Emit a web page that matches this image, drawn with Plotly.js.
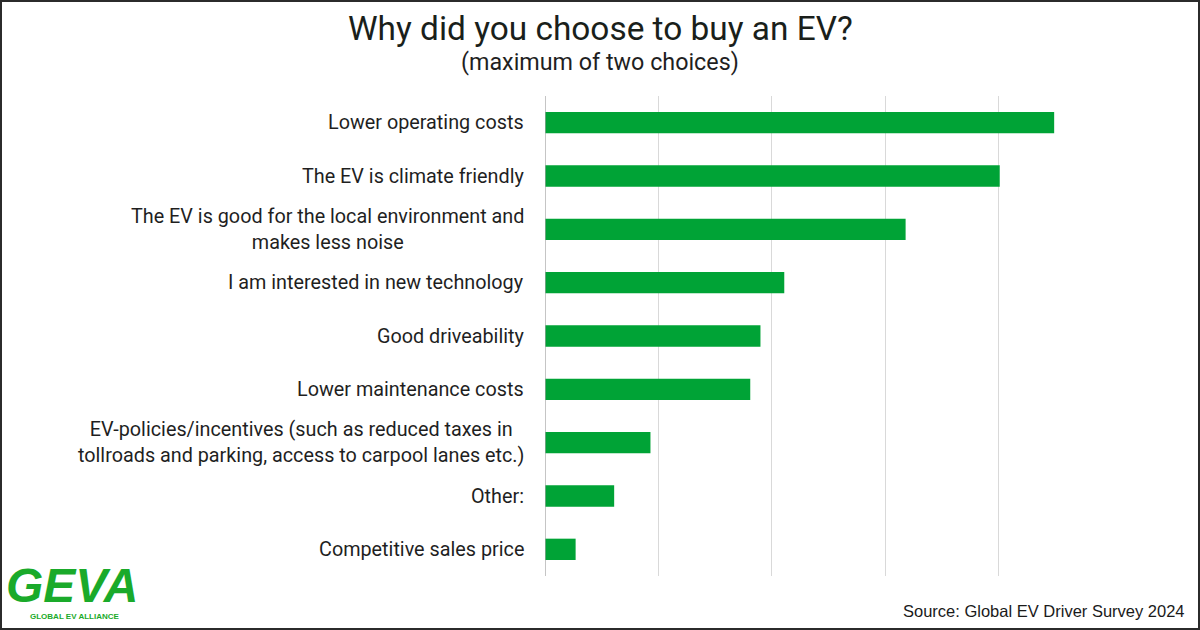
<!DOCTYPE html>
<html>
<head>
<meta charset="utf-8">
<script src="https://cdn.plot.ly/plotly-3.0.1.min.js"></script>
<style>
  html, body { margin: 0; padding: 0; background: #ffffff; }
  #chart { width: 1200px; height: 630px; }
</style>
</head>
<body>
<div id="chart"></div>
<script>
// Data (percent of respondents, estimated)
const categories = [
  "Lower operating costs",
  "The EV is climate friendly",
  "The EV is good for the local environment and<br>makes less noise",
  "I am interested in new technology",
  "Good driveability",
  "Lower maintenance costs",
  "EV-policies/incentives (such as reduced taxes in<br>tollroads and parking, access to carpool lanes etc.)",
  "Other:",
  "Competitive sales price"
];
const values = [44.9, 40.1, 31.8, 21.1, 19.0, 18.1, 9.3, 6.1, 2.7];
const xTicks = [0, 10, 20, 30, 40, 50];
const titleText = 'Why did you choose to buy an EV?';
const subtitleText = '(maximum of two choices)';
const sourceText = 'Source: Global EV Driver Survey 2024';

const L = 545, R = 1112, T = 96, B = 576;
const W = 1200, H = 630;
const px = v => (v - L) / (R - L);
const py = v => (B - v) / (B - T);

const labelAnnotations = categories.map(c => ({
  x: px(526), xref: 'paper', xanchor: 'right',
  y: c, yref: 'y', yanchor: 'middle',
  text: c, showarrow: false, align: 'center',
  font: { family: 'Roboto, Arial, sans-serif', size: 19.8, color: '#1f1f1f' }
}));

const data = [{
  type: 'bar',
  orientation: 'h',
  y: categories,
  x: values,
  marker: { color: '#00a336' },
  hoverinfo: 'skip'
}];

const layout = {
  width: W, height: H,
  margin: { l: L, r: W - R, t: T, b: H - B, pad: 0 },
  paper_bgcolor: '#ffffff',
  plot_bgcolor: '#ffffff',
  showlegend: false,
  bargap: 0.6,
  xaxis: {
    range: [0, 50],
    tickvals: xTicks,
    showticklabels: false,
    showgrid: true,
    gridcolor: '#d9d9d9',
    gridwidth: 1,
    zeroline: false,
    showline: false,
    fixedrange: true
  },
  yaxis: {
    type: 'category',
    autorange: 'reversed',
    showticklabels: false,
    showgrid: false,
    zeroline: false,
    showline: false,
    ticks: '',
    fixedrange: true
  },
  shapes: [
    { type: 'line', xref: 'x', yref: 'paper', x0: 0, x1: 0, y0: 0, y1: 1,
      line: { color: '#a6a6a6', width: 1.3 } },
    { type: 'rect', xref: 'paper', yref: 'paper',
      x0: px(1), x1: px(W - 1), y0: py(H - 1), y1: py(1),
      line: { color: '#2b2b2b', width: 2 }, fillcolor: 'rgba(0,0,0,0)' }
  ],
  annotations: labelAnnotations.concat([
    {
      x: px(600), xref: 'paper', xanchor: 'center',
      y: py(29), yref: 'paper', yanchor: 'middle',
      text: titleText, showarrow: false,
      font: { family: 'Roboto, Arial, sans-serif', size: 33.4, color: '#1a1f1b' }
    },
    {
      x: px(600), xref: 'paper', xanchor: 'center',
      y: py(62), yref: 'paper', yanchor: 'middle',
      text: subtitleText, showarrow: false,
      font: { family: 'Roboto, Arial, sans-serif', size: 23.3, color: '#1f1f1f' }
    },
    {
      x: px(1187), xref: 'paper', xanchor: 'right',
      y: py(611), yref: 'paper', yanchor: 'middle',
      text: sourceText, showarrow: false,
      font: { family: 'Liberation Sans, Arial, sans-serif', size: 16.5, color: '#1a1a1a' }
    },
    {
      x: px(4), xref: 'paper', xanchor: 'left',
      y: py(585), yref: 'paper', yanchor: 'middle',
      text: '<b><i>GEVA</i></b>', showarrow: false,
      font: { family: 'Liberation Sans, Arial, sans-serif', size: 48, color: '#1aaa2a' }
    },
    {
      x: px(28), xref: 'paper', xanchor: 'left',
      y: py(616), yref: 'paper', yanchor: 'middle',
      text: '<b>GLOBAL EV ALLIANCE</b>', showarrow: false,
      font: { family: 'Liberation Sans, Arial, sans-serif', size: 8, color: '#1aaa2a' }
    }
  ])
};

Plotly.newPlot('chart', data, layout, { displayModeBar: false, staticPlot: true });
</script>
</body>
</html>
